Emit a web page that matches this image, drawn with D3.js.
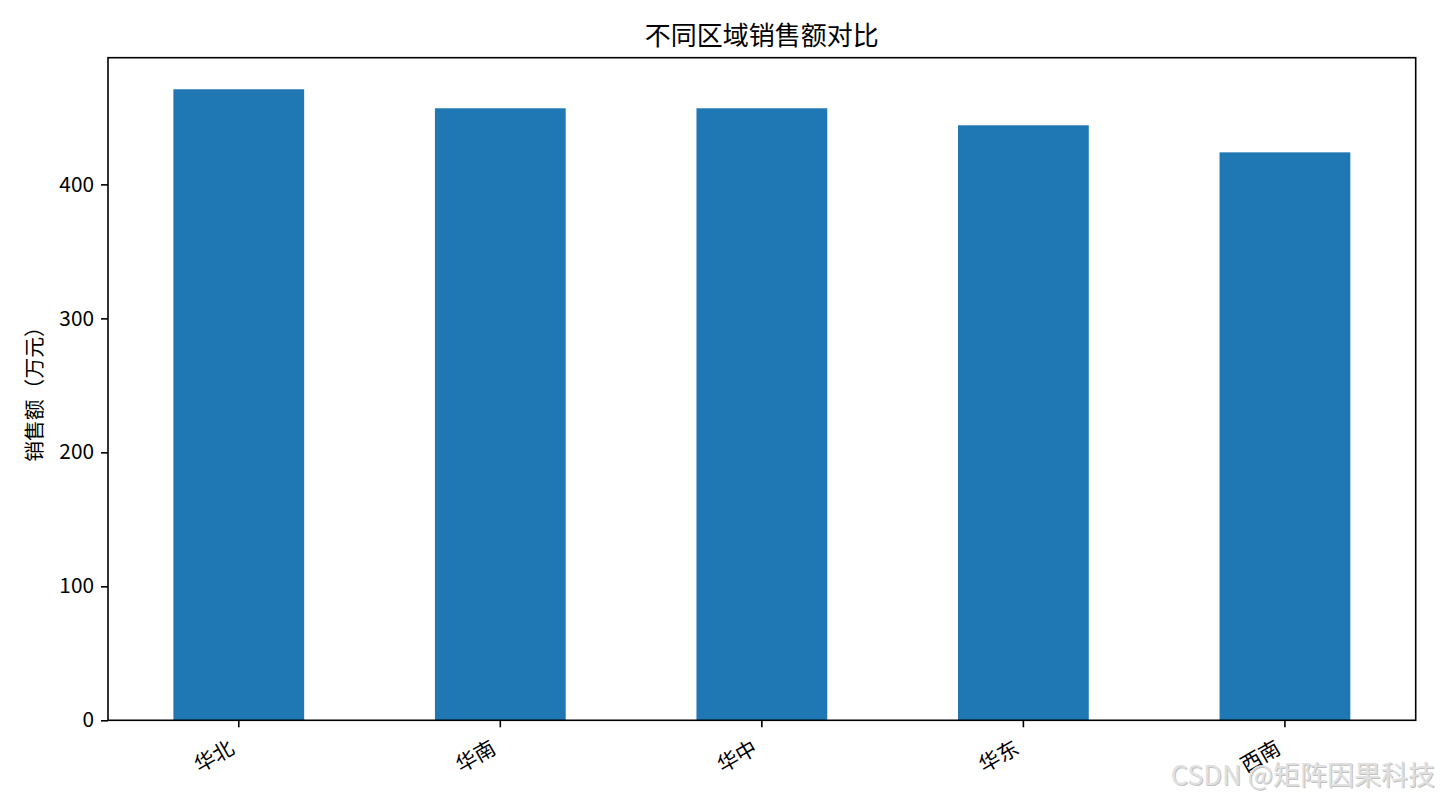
<!DOCTYPE html>
<html><head><meta charset="utf-8">
<script src="https://cdn.jsdelivr.net/npm/d3@7"></script>
<style>
html,body{margin:0;padding:0;background:#fff;}
text{font-family:"Noto Sans CJK SC","Noto Sans",sans-serif;}
</style></head>
<body><svg id="c" width="1440" height="800"></svg>
<script>
const categories = ["华北","华南","华中","华东","西南"];
const sales = [471, 456.8, 456.8, 444.1, 423.9];
const yTicks = [0,100,200,300,400];
const title = "不同区域销售额对比";
const yLabel = "销售额（万元）";
const watermark = "CSDN @矩阵因果科技";

const svg = d3.select("#c");
const L = 108, R = 1415.7, T = 57.7, B = 720.3;

const x = d3.scaleBand().domain(categories).range([L, R]).paddingInner(0.5).paddingOuter(0.25);
const y = d3.scaleLinear().domain([0, d3.max(sales) * 1.05]).range([B, T]);

svg.append("g").selectAll("rect").data(categories).join("rect")
  .attr("x", d => x(d)).attr("width", x.bandwidth())
  .attr("y", (d,i) => y(sales[i])).attr("height", (d,i) => B - y(sales[i]))
  .attr("fill", "#1f77b4");

// frame
svg.append("rect").attr("x", L).attr("y", T).attr("width", R - L).attr("height", B - T)
  .attr("fill", "none").attr("stroke", "#000").attr("stroke-width", 1.6);

// y axis
const ya = svg.append("g").attr("transform", `translate(${L},0)`)
  .call(d3.axisLeft(y).tickValues(yTicks).tickSize(7).tickPadding(7).tickFormat(d3.format("d")));
ya.select(".domain").remove();
ya.selectAll(".tick line").attr("stroke", "#000").attr("stroke-width", 1.6);
ya.selectAll(".tick text").attr("font-size", 20.8).attr("fill", "#000")
  .attr("font-family", '"Noto Sans CJK SC",sans-serif');

// x axis
const xa = svg.append("g").attr("transform", `translate(0,${B})`)
  .call(d3.axisBottom(x).tickSize(7).tickPadding(7));
xa.select(".domain").remove();
xa.selectAll(".tick line").attr("stroke", "#000").attr("stroke-width", 1.6);
xa.selectAll(".tick text").attr("font-size", 20.8).attr("fill", "#000")
  .attr("text-anchor", "end").attr("dy", null).attr("y", null)
  .attr("transform", "translate(-3,32) rotate(-30)")
  .attr("font-family", '"Noto Sans CJK SC",sans-serif');

// title
svg.append("text").attr("x", (L + R) / 2).attr("y", 45).attr("text-anchor", "middle")
  .attr("font-size", 26).attr("fill", "#000").text(title);

// y label
svg.append("text").attr("transform", `translate(42,${(T + B) / 2}) rotate(-90)`)
  .attr("text-anchor", "middle").attr("font-size", 20.8).attr("fill", "#000").text(yLabel);

// watermark
svg.append("text").attr("x", 1436).attr("y", 786).attr("text-anchor", "end")
  .attr("font-size", 27).attr("fill", "#999").attr("opacity", 0.6).text(watermark);
svg.append("text").attr("x", 1435).attr("y", 785).attr("text-anchor", "end")
  .attr("font-size", 27).attr("fill", "#e0e0e0").text(watermark);
</script></body></html>
